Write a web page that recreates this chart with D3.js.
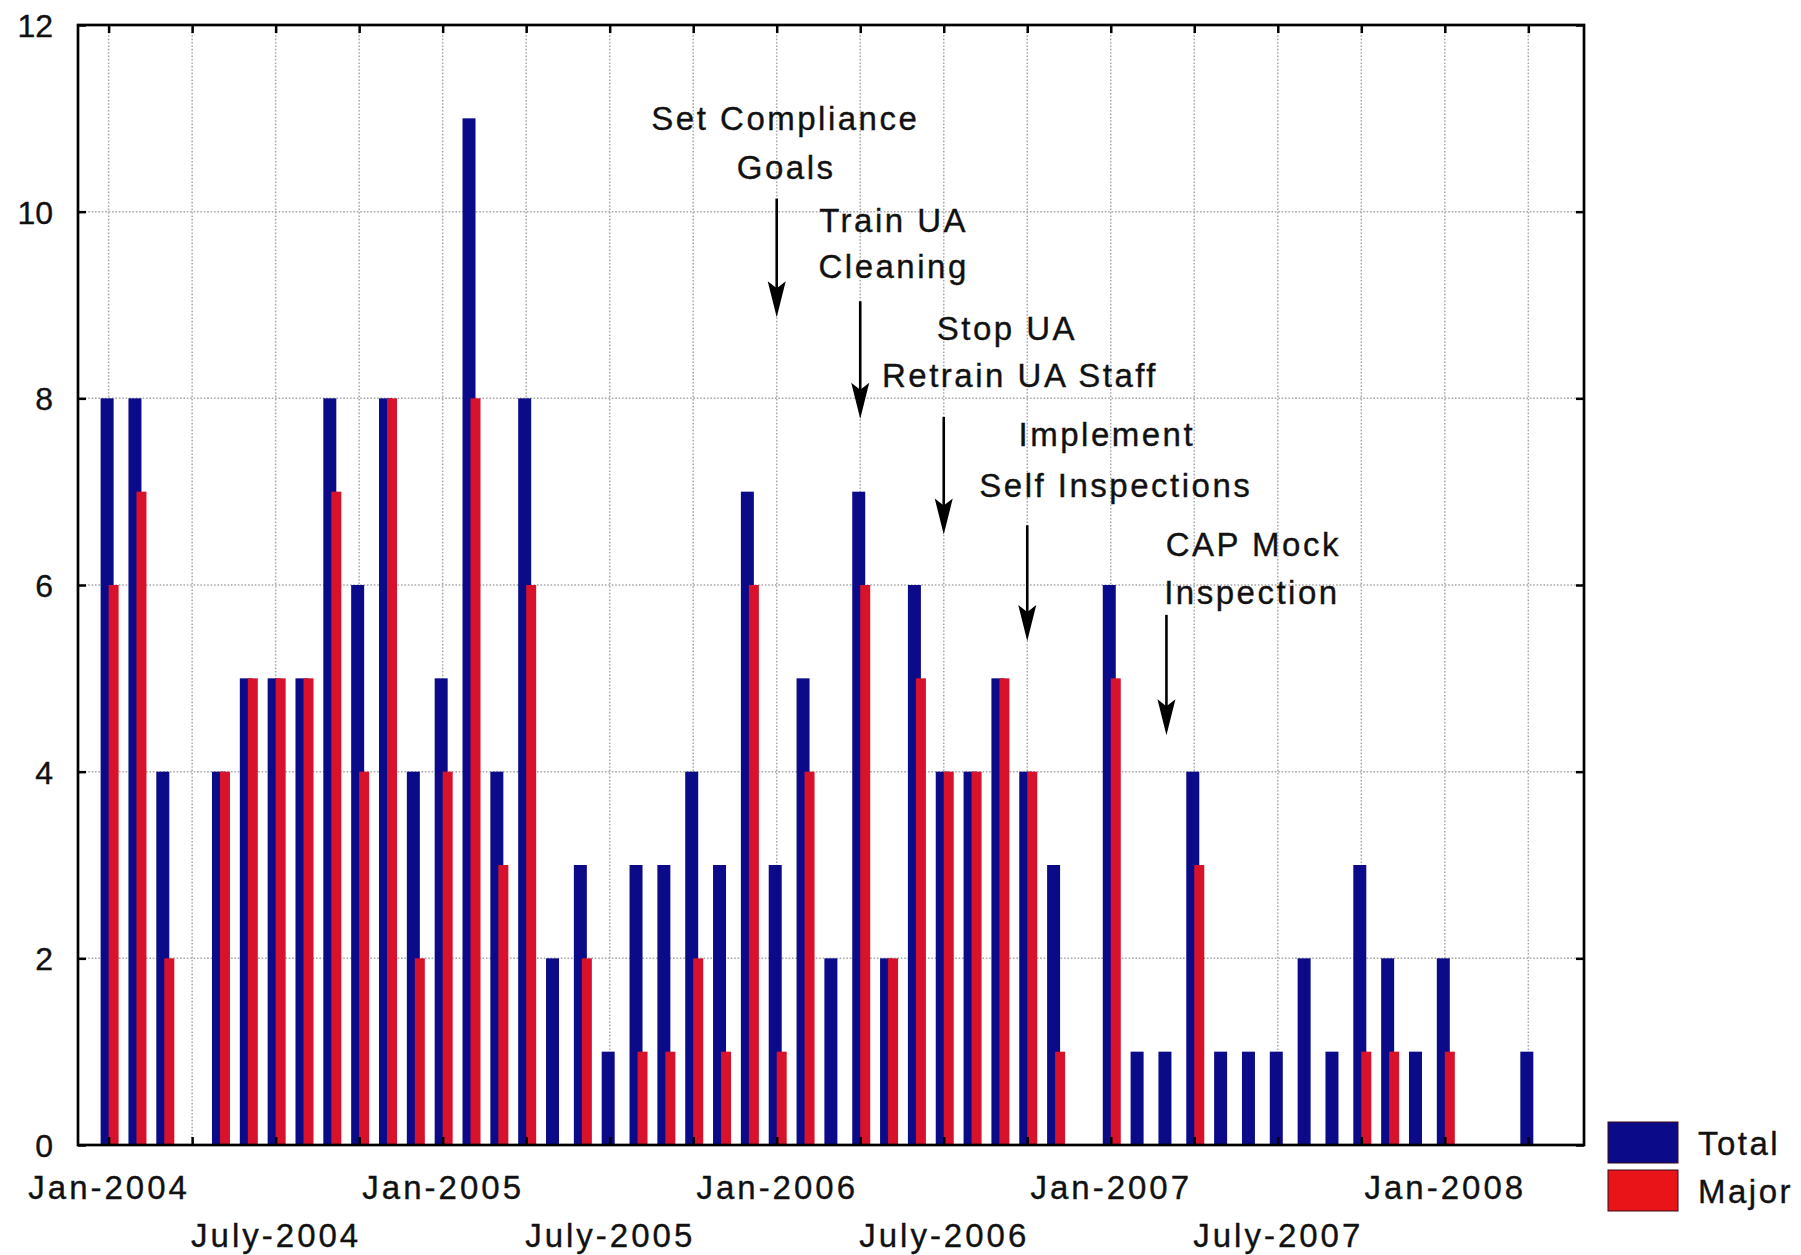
<!DOCTYPE html>
<html>
<head>
<meta charset="utf-8">
<script src="https://cdn.jsdelivr.net/npm/d3@7"></script>
<style>
  body { margin: 0; background: #fff; }
  svg { display: block; background: #fff; }
  text { font-family: "Liberation Sans", Arial, sans-serif; fill: #111; stroke: #111; stroke-width: 0.35px; }
</style>
</head>
<body>
<svg id="chart"></svg>
<script>
// Monthly findings, one entry per month from Jan-2004 to Apr-2008
const total = [8, 8, 4, 0, 4, 5, 5, 5, 8, 6,
               8, 4, 5, 11, 4, 8, 2, 3, 1, 3,
               3, 4, 3, 7, 3, 5, 2, 7, 2, 6,
               4, 4, 5, 4, 3, 0, 6, 1, 1, 4,
               1, 1, 1, 2, 1, 3, 2, 1, 2, 0,
               0, 1];
const major = [6, 7, 2, 0, 4, 5, 5, 5, 7, 4,
               8, 2, 4, 8, 3, 6, 0, 2, 0, 1,
               1, 2, 1, 6, 1, 4, 0, 6, 2, 5,
               4, 4, 5, 4, 1, 0, 5, 0, 0, 3,
               0, 0, 0, 0, 0, 1, 1, 0, 1, 0,
               0, 0];

// x tick labels sit every 6 months (month index from Jan-2004)
const xTickMonths = [0, 6, 12, 18, 24, 30, 36, 42, 48];
const xTickLabels = ["Jan-2004", "July-2004", "Jan-2005", "July-2005", "Jan-2006",
                     "July-2006", "Jan-2007", "July-2007", "Jan-2008"];
const gridMonths = [0, 3, 6, 9, 12, 15, 18, 21, 24, 27, 30, 33, 36, 39, 42, 45, 48, 51];
const yTicks = [0, 2, 4, 6, 8, 10, 12];

const seriesNames = ["Total", "Major"];
const seriesColors = ["#0b0b8a", "#d8122a"];

// arrows: month pointed at, start and tip in y units
const arrows = [
  { month: 24, from: 10.14, to: 8.87 },
  { month: 27, from: 9.04, to: 7.78 },
  { month: 30, from: 7.80, to: 6.54 },
  { month: 33, from: 6.64, to: 5.40 },
  { month: 38, from: 5.68, to: 4.39 }
];
// annotation lines: centre month, baseline value
const notes = [
  { text: "Set Compliance", month: 24.31, value: 10.87 },
  { text: "Goals", month: 24.34, value: 10.35 },
  { text: "Train UA", month: 28.2, value: 9.78 },
  { text: "Cleaning", month: 28.2, value: 9.29 },
  { text: "Stop UA", month: 32.27, value: 8.62 },
  { text: "Retrain UA Staff", month: 32.74, value: 8.12 },
  { text: "Implement", month: 35.86, value: 7.49 },
  { text: "Self Inspections", month: 36.18, value: 6.94 },
  { text: "CAP Mock", month: 41.12, value: 6.31 },
  { text: "Inspection", month: 41.07, value: 5.80 }
];

const width = 1801;
const height = 1255;
const margin = { top: 25, right: 217, bottom: 110, left: 78 };

const svg = d3.select("#chart")
    .attr("width", width)
    .attr("height", height);

const x = d3.scaleLinear()
    .domain([-1.1, 53])
    .range([margin.left, width - margin.right]);

const y = d3.scaleLinear()
    .domain([0, 12])
    .range([height - margin.bottom, margin.top]);

const plotLeft = margin.left, plotRight = width - margin.right;
const plotTop = margin.top, plotBottom = height - margin.bottom;

// dotted grid
const grid = svg.append("g")
    .attr("stroke", "#a8a8a8")
    .attr("stroke-width", 1.5)
    .attr("stroke-dasharray", "1.6,1.8");

grid.selectAll(".vgrid")
    .data(gridMonths)
    .enter().append("line")
    .attr("x1", d => x(d)).attr("x2", d => x(d))
    .attr("y1", plotTop).attr("y2", plotBottom);

grid.selectAll(".hgrid")
    .data(yTicks.filter(d => d > 0 && d < 12))
    .enter().append("line")
    .attr("x1", plotLeft).attr("x2", plotRight)
    .attr("y1", d => y(d)).attr("y2", d => y(d));

// bars: Total first, Major drawn over it slightly to the right
const barOffsets = [[-8, 13], [0, 10]];
[total, major].forEach((values, s) => {
    svg.append("g")
        .attr("fill", seriesColors[s])
        .selectAll("rect")
        .data(values.map((v, i) => ({ month: i, value: v })).filter(d => d.value > 0))
        .enter().append("rect")
        .attr("x", d => x(d.month) + barOffsets[s][0])
        .attr("width", barOffsets[s][1])
        .attr("y", d => y(d.value))
        .attr("height", d => y(0) - y(d.value));
});

// axes with inward ticks
const axisLeft = svg.append("g")
    .attr("transform", `translate(${plotLeft},0)`)
    .call(d3.axisLeft(y).tickValues(yTicks).tickSize(-8).tickPadding(25).tickFormat(d3.format("d")));
axisLeft.selectAll("text")
    .attr("font-size", 32)
    .attr("font-family", "Liberation Sans, Arial, sans-serif")
    .attr("fill", "#111")
    .attr("dy", "0.36em");

svg.append("g")
    .attr("transform", `translate(${plotRight},0)`)
    .call(d3.axisRight(y).tickValues(yTicks).tickSize(-8).tickFormat(""));

svg.append("g")
    .attr("transform", `translate(0,${plotTop})`)
    .call(d3.axisTop(x).tickValues(gridMonths).tickSize(-8).tickFormat(""));

const axisBottom = svg.append("g")
    .attr("transform", `translate(0,${plotBottom})`)
    .call(d3.axisBottom(x).tickValues(gridMonths).tickSize(-8)
        .tickFormat(d => {
            const k = xTickMonths.indexOf(d);
            return k >= 0 ? xTickLabels[k] : "";
        }));
axisBottom.selectAll("text")
    .attr("font-size", 33)
    .attr("letter-spacing", 3)
    .attr("font-family", "Liberation Sans, Arial, sans-serif")
    .attr("fill", "#111")
    .attr("dy", 0)
    .attr("y", d => (d % 12 === 0 ? 54 : 102));

svg.selectAll(".domain").remove();
svg.selectAll(".tick line").attr("stroke", "#000").attr("stroke-width", 2.5);

// frame
svg.append("rect")
    .attr("x", plotLeft).attr("y", plotTop)
    .attr("width", plotRight - plotLeft).attr("height", plotBottom - plotTop)
    .attr("fill", "none")
    .attr("stroke", "#000")
    .attr("stroke-width", 2.7);

// arrows
const arrowG = svg.append("g");
arrows.forEach(a => {
    const ax = x(a.month), y0 = y(a.from), y1 = y(a.to);
    arrowG.append("line")
        .attr("x1", ax).attr("x2", ax)
        .attr("y1", y0).attr("y2", y1 - 20)
        .attr("stroke", "#000")
        .attr("stroke-width", 2.6);
    arrowG.append("path")
        .attr("d", `M${ax},${y1} L${ax - 9},${y1 - 36} L${ax},${y1 - 29} L${ax + 9},${y1 - 36} Z`)
        .attr("fill", "#000");
});

// annotation text
svg.append("g")
    .selectAll("text")
    .data(notes)
    .enter().append("text")
    .attr("x", d => x(d.month))
    .attr("y", d => y(d.value))
    .attr("text-anchor", "middle")
    .attr("font-size", 33)
    .attr("letter-spacing", 2.5)
    .text(d => d.text);

// legend
const legend = svg.append("g")
    .attr("transform", `translate(${plotRight + 24},${plotBottom - 23})`);

seriesNames.forEach((name, i) => {
    const row = legend.append("g").attr("transform", `translate(0,${i * 48})`);
    row.append("rect")
        .attr("width", 70).attr("height", 41)
        .attr("fill", i === 0 ? seriesColors[0] : "#e81418")
        .attr("stroke", "#3a0a1a")
        .attr("stroke-width", 1);
    row.append("text")
        .attr("x", 90).attr("y", 33)
        .attr("font-size", 33)
        .attr("letter-spacing", 2.5)
        .text(name);
});
</script>
</body>
</html>
